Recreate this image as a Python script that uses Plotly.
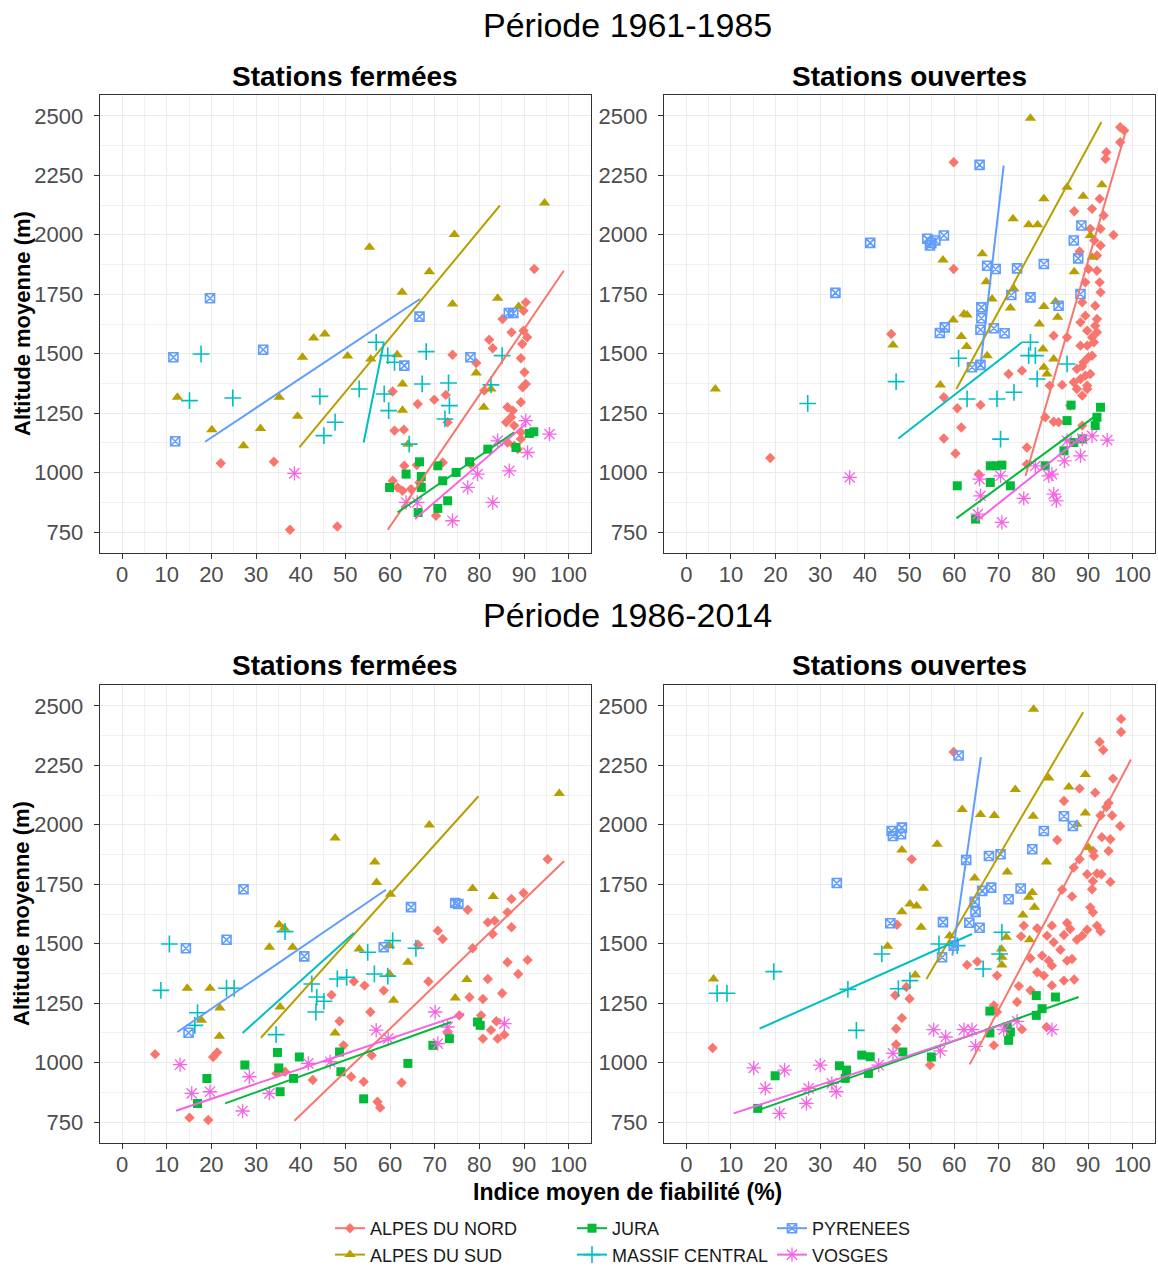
import plotly.graph_objects as go

# ---------------------------------------------------------------------------
# Regions, colours and point shapes (ggplot2 default hue palette)
# ---------------------------------------------------------------------------
REGIONS = ["ALPES DU NORD", "ALPES DU SUD", "JURA", "MASSIF CENTRAL", "PYRENEES", "VOSGES"]
COLORS = {
    "ALPES DU NORD": "#F8766D",
    "ALPES DU SUD": "#B79F00",
    "JURA": "#00BA38",
    "MASSIF CENTRAL": "#00BFC4",
    "PYRENEES": "#619CFF",
    "VOSGES": "#F564E3",
}
SYMBOLS = {
    "ALPES DU NORD": ("diamond", 8, 0),
    "ALPES DU SUD": ("triangle-up", 10, 0),
    "JURA": ("square", 9, 0),
    "MASSIF CENTRAL": ("cross-thin-open", 12, 1.6),
    "PYRENEES": ("square-x-open", 9, 1.6),
    "VOSGES": ("asterisk-open", 12, 1.3),
}

X_TICKS = list(range(0, 101, 10))
Y_TICKS = [750, 1000, 1250, 1500, 1750, 2000, 2250, 2500]

# ---------------------------------------------------------------------------
# Période 1961-1985 — stations fermées  (x: indice de fiabilité %, y: altitude m)
# ---------------------------------------------------------------------------
f6185_nord = [(22.1, 1040), (34.0, 1046), (37.6, 760), (48.2, 774), (92.3, 1856), (90.4, 1716),
              (89.9, 1681), (85.2, 1646), (87.2, 1590), (89.9, 1597), (90.7, 1569), (82.2, 1559),
              (83.0, 1523), (89.6, 1541), (74.0, 1496), (79.3, 1461), (89.3, 1481), (90.1, 1422),
              (89.7, 1359), (90.4, 1373), (81.1, 1345), (60.6, 1341), (66.2, 1289), (69.9, 1307),
              (72.5, 1327), (72.9, 1212), (89.3, 1296), (86.3, 1275), (87.5, 1261), (87.1, 1233),
              (61.0, 1177), (63.1, 1181), (86.0, 1212), (87.8, 1198), (89.3, 1170), (63.2, 1029),
              (66.0, 1032), (71.8, 1043), (78.1, 1036), (60.6, 966), (61.7, 938), (62.8, 924),
              (64.7, 931), (66.6, 959), (70.3, 819), (87.8, 1114), (86.3, 1127), (89.3, 1142),
              (88.6, 1099)]
f6185_sud = [(12.4, 1317), (20.1, 1181), (27.2, 1113), (31.0, 1186), (35.2, 1317), (39.3, 1237),
             (40.4, 1485), (42.9, 1566), (45.4, 1583), (50.5, 1490), (55.4, 1948), (74.4, 2001),
             (94.6, 2134), (68.8, 1845), (62.7, 1758), (74.0, 1709), (84.1, 1733), (88.8, 1699),
             (55.7, 1478), (61.6, 1496), (79.3, 1419), (62.8, 1373), (82.6, 1352), (62.8, 1263),
             (81.0, 1275), (64.0, 1120)]
f6185_jura = [(59.9, 938), (63.6, 994), (66.6, 1046), (67.0, 984), (67.0, 938), (70.7, 1029),
              (71.8, 966), (72.9, 882), (70.7, 850), (66.3, 833), (74.8, 1001), (77.8, 1046),
              (81.9, 1099), (88.2, 1106), (91.2, 1165), (92.2, 1172)]
f6185_mc = [(17.7, 1499), (15.1, 1303), (24.8, 1314), (44.3, 1321), (47.7, 1212), (45.2, 1156),
            (56.9, 1548), (59.5, 1492), (61.0, 1464), (68.1, 1509), (53.1, 1352), (58.7, 1331),
            (67.2, 1373), (73.1, 1377), (73.3, 1282), (72.3, 1226), (85.1, 1492), (82.6, 1369),
            (59.7, 1261), (64.3, 1120)]
f6185_pyr = [(11.5, 1485), (19.7, 1733), (31.6, 1517), (11.9, 1132), (66.6, 1656), (86.6, 1671),
             (87.6, 1671), (78.0, 1485), (63.2, 1450)]
f6185_vos = [(38.6, 997), (63.6, 875), (66.1, 875), (74.0, 798), (77.4, 938), (79.6, 994),
             (83.0, 875), (86.7, 1008), (90.4, 1219), (90.8, 1085), (95.7, 1162), (84.1, 1134)]
f6185_fit = {
    "ALPES DU NORD": [(59.5, 760), (98.9, 1849)],
    "ALPES DU SUD": [(39.7, 1106), (84.6, 2123)],
    "JURA": [(61.7, 833), (87.8, 1170)],
    "MASSIF CENTRAL": [(54.1, 1127), (58.6, 1545)],
    "PYRENEES": [(18.6, 1130), (66.7, 1730)],
    "VOSGES": [(65.6, 805), (90.4, 1205)],
}

# ---------------------------------------------------------------------------
# Période 1961-1985 — stations ouvertes
# ---------------------------------------------------------------------------
o6185_nord = [(18.8, 1062), (45.9, 1583), (59.9, 2305), (97.2, 2452), (98.1, 2438), (97.2, 2389),
              (94.1, 2347), (93.9, 2319), (92.6, 2151), (90.9, 2109), (93.5, 2081), (86.9, 2099),
              (95.7, 1999), (92.8, 2025), (91.4, 1976), (92.0, 1913), (88.1, 1930), (59.9, 1856),
              (90.1, 1856), (92.6, 1800), (89.4, 1800), (92.8, 1758), (88.7, 1716), (92.0, 1646),
              (89.8, 1597), (90.9, 1569), (89.8, 1534), (90.9, 1492), (88.7, 1447), (90.5, 1415),
              (82.3, 1576), (85.3, 1569), (75.2, 1429), (72.2, 1415), (88.3, 1394), (89.8, 1366),
              (86.8, 1380), (81.4, 1366), (84.2, 1369), (57.7, 1317), (65.9, 1285), (60.7, 1271),
              (86.0, 1282), (87.5, 1352), (80.4, 1233), (82.3, 1214), (83.4, 1212), (61.6, 1190),
              (57.7, 1144), (60.3, 1081), (76.3, 1106), (65.5, 994), (76.3, 1036), (88.7, 1198),
              (92.0, 1590), (89.4, 1660), (91.6, 1702), (88.3, 1632), (90.1, 1485), (89.0, 1464),
              (91.3, 1548), (88.3, 1534), (87.5, 1436), (89.4, 1408), (91.6, 1618), (92.8, 1955),
              (90.5, 2025), (92.0, 1849), (88.7, 1324), (89.8, 1352)]
o6185_sud = [(6.5, 1352), (46.3, 1537), (77.1, 2490), (93.1, 2210), (85.3, 2200), (80.1, 2151),
             (88.9, 2162), (73.2, 2067), (76.7, 2042), (78.7, 2042), (90.5, 1997), (66.3, 1920),
             (57.5, 1894), (90.9, 1906), (86.9, 1845), (67.2, 1803), (73.4, 1772), (68.5, 1730),
             (72.6, 1692), (82.7, 1720), (80.1, 1699), (62.2, 1667), (62.9, 1663), (59.8, 1642),
             (83.2, 1653), (79.1, 1625), (61.6, 1572), (62.8, 1530), (67.4, 1492), (79.9, 1520),
             (82.3, 1478), (80.1, 1443), (80.8, 1415), (56.9, 1369)]
o6185_jura = [(60.7, 945), (64.8, 805), (68.1, 959), (68.1, 1029), (69.6, 1029), (70.7, 1032),
              (72.6, 945), (80.4, 1029), (84.6, 1092), (85.3, 1219), (86.2, 1284), (86.8, 1127),
              (88.7, 1142), (91.6, 1198), (92.0, 1233), (92.8, 1275)]
o6185_mc = [(27.2, 1291), (47.0, 1383), (61.0, 1481), (62.9, 1310), (69.6, 1310), (73.4, 1338),
            (70.4, 1141), (77.1, 1548), (76.7, 1492), (78.2, 1492), (78.6, 1394), (85.3, 1457)]
o6185_pyr = [(33.4, 1756), (41.2, 1966), (65.7, 2294), (54.0, 1983), (54.9, 1966), (54.6, 1955),
             (55.8, 1976), (57.7, 1997), (67.4, 1870), (69.3, 1856), (74.1, 1859), (80.1, 1877),
             (88.5, 2039), (86.8, 1976), (87.8, 1901), (72.8, 1747), (77.1, 1737), (83.4, 1702),
             (88.3, 1751), (66.1, 1695), (66.1, 1649), (65.9, 1601), (68.9, 1607), (71.3, 1586),
             (56.8, 1587), (57.9, 1611), (64.0, 1443), (65.9, 1453)]
o6185_vos = [(36.6, 980), (65.7, 973), (65.9, 903), (65.3, 826), (70.7, 791), (75.6, 892),
             (70.4, 987), (81.9, 994), (81.2, 987), (82.3, 910), (82.9, 882), (84.7, 1050),
             (88.3, 1071), (88.7, 1142), (90.9, 1155), (94.3, 1137), (85.3, 1134), (78.2, 1029)]
o6185_fit = {
    "ALPES DU NORD": [(76.0, 987), (98.5, 2438)],
    "ALPES DU SUD": [(60.5, 1352), (93.0, 2474)],
    "JURA": [(60.5, 808), (91.9, 1242)],
    "MASSIF CENTRAL": [(47.5, 1144), (75.2, 1548)],
    "PYRENEES": [(65.9, 1450), (71.1, 2291)],
    "VOSGES": [(65.1, 798), (89.4, 1163)],
}

# ---------------------------------------------------------------------------
# Période 1986-2014 — stations fermées
# ---------------------------------------------------------------------------
f8614_nord = [(7.4, 1036), (20.4, 1024), (21.3, 1043), (15.1, 769), (19.3, 759), (46.9, 1285),
              (48.7, 1174), (49.6, 1073), (42.7, 927), (34.6, 955), (36.5, 962), (95.3, 1855),
              (89.9, 1713), (87.2, 1688), (86.3, 1632), (81.9, 1590), (83.4, 1597), (83.0, 1541),
              (87.2, 1569), (77.4, 1643), (70.7, 1555), (71.8, 1520), (66.3, 1496), (78.5, 1481),
              (86.3, 1422), (90.8, 1432), (88.7, 1373), (81.9, 1352), (68.6, 1341), (51.9, 1341),
              (54.3, 1324), (58.6, 1303), (85.1, 1292), (77.8, 1275), (80.8, 1268), (55.6, 1213),
              (75.5, 1199), (80.4, 1199), (83.8, 1174), (82.6, 1137), (80.8, 1101), (84.1, 1101),
              (85.6, 1118), (72.9, 1125), (55.9, 1031), (51.3, 941), (54.1, 920), (62.6, 916),
              (57.2, 836), (57.8, 811)]
f8614_sud = [(47.7, 1944), (35.2, 1580), (36.3, 1565), (33.0, 1485), (38.2, 1485), (14.6, 1313),
             (19.7, 1313), (21.9, 1230), (17.8, 1178), (21.8, 1111), (35.4, 1234), (47.7, 1125),
             (97.9, 2131), (68.8, 1999), (56.6, 1844), (57.0, 1757), (60.1, 1708), (78.5, 1732),
             (83.1, 1699), (53.1, 1478), (59.9, 1492), (64.0, 1422), (59.9, 1373), (77.2, 1350),
             (60.8, 1262), (74.6, 1272)]
f8614_jura = [(19.0, 934), (16.9, 829), (27.5, 990), (34.8, 1043), (35.1, 978), (39.7, 1024),
              (38.4, 934), (35.4, 878), (49.0, 962), (48.7, 1045), (54.1, 848), (64.0, 997),
              (69.6, 1073), (73.3, 1101), (79.6, 1171), (80.2, 1157)]
f8614_mc = [(10.6, 1499), (8.7, 1304), (16.9, 1210), (16.3, 1157), (23.4, 1313), (25.1, 1313),
            (36.5, 1551), (34.5, 1118), (42.5, 1331), (43.6, 1276), (45.2, 1258), (43.4, 1213),
            (48.2, 1352), (50.3, 1359), (55.0, 1464), (60.6, 1513), (65.8, 1481), (56.5, 1373),
            (59.5, 1364)]
f8614_pyr = [(27.2, 1729), (23.4, 1517), (14.3, 1481), (14.9, 1126), (40.8, 1447), (64.7, 1654),
             (74.6, 1671), (75.3, 1667), (58.6, 1485)]
f8614_vos = [(13.0, 992), (15.6, 871), (19.7, 878), (28.5, 941), (27.0, 797), (33.0, 871),
             (41.7, 997), (46.6, 1004), (56.9, 1137), (59.6, 1101), (70.1, 1213), (70.7, 1080),
             (72.9, 1150), (85.6, 1164)]
f8614_fit = {
    "ALPES DU NORD": [(38.6, 756), (99.0, 1848)],
    "ALPES DU SUD": [(31.1, 1105), (79.8, 2120)],
    "JURA": [(23.1, 829), (73.7, 1171)],
    "MASSIF CENTRAL": [(27.0, 1125), (51.9, 1545)],
    "PYRENEES": [(12.4, 1129), (59.1, 1727)],
    "VOSGES": [(12.1, 798), (76.6, 1206)],
}

# ---------------------------------------------------------------------------
# Période 1986-2014 — stations ouvertes
# ---------------------------------------------------------------------------
o8614_nord = [(5.9, 1062), (50.5, 1855), (47.2, 1580), (46.8, 1283), (49.3, 1318), (50.0, 1269),
              (48.3, 1188), (47.0, 1143), (47.0, 1077), (59.9, 2306), (97.4, 2445), (97.4, 2390),
              (92.6, 2348), (93.4, 2314), (95.6, 2194), (88.1, 2152), (91.6, 2135), (84.6, 2100),
              (94.6, 2092), (92.8, 2039), (95.4, 2039), (94.1, 2075), (97.2, 1995), (83.1, 1936),
              (93.1, 1948), (95.0, 1939), (91.1, 1890), (94.6, 1890), (88.1, 1855), (91.3, 1869),
              (86.8, 1820), (89.8, 1792), (92.0, 1795), (93.0, 1792), (95.0, 1760), (91.1, 1763),
              (90.9, 1729), (84.2, 1727), (86.4, 1699), (90.5, 1653), (91.1, 1632), (85.3, 1587),
              (92.0, 1576), (92.8, 1552), (89.8, 1559), (88.7, 1534), (75.6, 1576), (78.6, 1565),
              (81.9, 1576), (86.0, 1562), (75.0, 1531), (80.8, 1534), (82.3, 1506), (84.6, 1537),
              (87.5, 1517), (77.1, 1439), (79.7, 1450), (81.2, 1429), (83.8, 1475), (85.3, 1429),
              (86.4, 1436), (78.6, 1380), (80.1, 1366), (81.9, 1408), (84.6, 1345), (86.9, 1350),
              (81.9, 1325), (62.9, 1411), (65.2, 1425), (69.6, 1366), (74.5, 1322), (77.1, 1304),
              (74.1, 1255), (68.9, 1241), (69.6, 1213), (80.7, 1150), (75.2, 1140), (68.9, 1073),
              (54.6, 990)]
o8614_sud = [(6.1, 1352), (48.3, 1894), (50.1, 1667), (48.3, 1634), (45.1, 1489), (77.8, 2486),
             (89.4, 2211), (81.2, 2197), (73.7, 2148), (85.7, 2159), (61.8, 2064), (65.9, 2043),
             (69.0, 2039), (77.7, 2036), (89.4, 2050), (87.5, 2002), (56.2, 1918), (90.1, 1904),
             (80.7, 1844), (71.9, 1802), (64.6, 1776), (53.1, 1733), (51.6, 1659), (77.5, 1715),
             (76.7, 1695), (78.0, 1653), (75.4, 1621), (52.6, 1569), (59.0, 1534), (71.7, 1527),
             (76.9, 1517), (70.6, 1478), (70.7, 1443), (70.7, 1411), (51.3, 1369)]
o8614_jura = [(19.9, 945), (16.0, 808), (34.3, 987), (35.9, 969), (35.6, 934), (39.3, 1032),
              (41.2, 1025), (40.8, 955), (48.5, 1045), (54.9, 1024), (68.0, 1217), (68.0, 1125),
              (71.9, 1150), (72.2, 1094), (72.6, 1129), (78.4, 1282), (78.4, 1199), (79.7, 1227),
              (82.7, 1276)]
o8614_mc = [(6.9, 1292), (9.1, 1292), (19.6, 1383), (36.2, 1308), (38.1, 1136), (43.8, 1457),
            (47.5, 1311), (50.1, 1345), (56.6, 1499), (60.7, 1492), (70.7, 1548), (70.2, 1457),
            (66.5, 1394)]
o8614_pyr = [(33.7, 1755), (46.0, 1974), (48.3, 1988), (46.3, 1953), (48.1, 1960), (45.7, 1586),
             (61.0, 2291), (84.6, 2036), (86.6, 1995), (80.1, 1974), (77.5, 1897), (67.8, 1869),
             (70.4, 1876), (62.7, 1852), (68.3, 1736), (66.3, 1722), (74.9, 1732), (72.2, 1687),
             (64.6, 1676), (64.8, 1634), (57.5, 1591), (63.4, 1588), (65.7, 1567), (57.3, 1443),
             (59.9, 1492)]
o8614_vos = [(15.1, 978), (17.7, 892), (22.0, 969), (20.9, 787), (26.9, 829), (27.4, 892),
             (30.0, 990), (32.6, 913), (33.6, 878), (43.1, 990), (46.3, 1039), (55.4, 1139),
             (58.1, 1108), (56.9, 1050), (62.2, 1139), (64.0, 1139), (64.8, 1069), (71.1, 1139),
             (74.1, 1174), (81.9, 1139)]
o8614_fit = {
    "ALPES DU NORD": [(63.5, 993), (99.6, 2274)],
    "ALPES DU SUD": [(53.8, 1352), (88.9, 2473)],
    "JURA": [(16.0, 800), (87.9, 1276)],
    "MASSIF CENTRAL": [(16.4, 1143), (64.0, 1541)],
    "PYRENEES": [(59.6, 1450), (66.0, 2284)],
    "VOSGES": [(10.6, 787), (74.1, 1180)],
}

# ---------------------------------------------------------------------------
# Panel layout: (axis suffix, points per region, fitted segments)
# ---------------------------------------------------------------------------
PANELS = [
    ("", [f6185_nord, f6185_sud, f6185_jura, f6185_mc, f6185_pyr, f6185_vos], f6185_fit),
    ("2", [o6185_nord, o6185_sud, o6185_jura, o6185_mc, o6185_pyr, o6185_vos], o6185_fit),
    ("3", [f8614_nord, f8614_sud, f8614_jura, f8614_mc, f8614_pyr, f8614_vos], f8614_fit),
    ("4", [o8614_nord, o8614_sud, o8614_jura, o8614_mc, o8614_pyr, o8614_vos], o8614_fit),
]

W, H = 1158, 1267
X_LEFT = [99.7 / W, 591.0 / W]
X_RIGHT = [664.0 / W, 1155.0 / W]
Y_TOP = [1 - 553.0 / H, 1 - 95.0 / H]
Y_BOT = [1 - 1143.0 / H, 1 - 685.0 / H]
DOMAINS = [(X_LEFT, Y_TOP), (X_RIGHT, Y_TOP), (X_LEFT, Y_BOT), (X_RIGHT, Y_BOT)]

FONT = "Liberation Sans, Arial, sans-serif"
TICK_FONT = dict(family=FONT, size=22, color="#4D4D4D")

fig = go.Figure()

# points first, fitted lines on top
for suffix, groups, fits in PANELS:
    for region, pts in zip(REGIONS, groups):
        sym, size, lw = SYMBOLS[region]
        marker = dict(symbol=sym, size=size, color=COLORS[region])
        marker["line"] = dict(width=lw, color=COLORS[region]) if lw else dict(width=0)
        fig.add_trace(go.Scatter(
            x=[p[0] for p in pts], y=[p[1] for p in pts],
            mode="markers", marker=marker, showlegend=False,
            xaxis="x" + suffix, yaxis="y" + suffix, name=region,
        ))
for suffix, groups, fits in PANELS:
    for region in REGIONS:
        seg = fits[region]
        fig.add_trace(go.Scatter(
            x=[p[0] for p in seg], y=[p[1] for p in seg],
            mode="lines", line=dict(color=COLORS[region], width=2),
            showlegend=False, xaxis="x" + suffix, yaxis="y" + suffix, name=region,
        ))

# legend entries (three columns, two rows each)
LEGEND_COLUMNS = {
    "legend": ["ALPES DU NORD", "ALPES DU SUD"],
    "legend2": ["JURA", "MASSIF CENTRAL"],
    "legend3": ["PYRENEES", "VOSGES"],
}
for leg, names in LEGEND_COLUMNS.items():
    for region in names:
        sym, size, lw = SYMBOLS[region]
        marker = dict(symbol=sym, size=size, color=COLORS[region])
        marker["line"] = dict(width=lw, color=COLORS[region]) if lw else dict(width=0)
        fig.add_trace(go.Scatter(
            x=[None], y=[None], mode="lines+markers", name=region,
            marker=marker, line=dict(color=COLORS[region], width=2),
            legend=leg, showlegend=True,
        ))


def x_axis(domain, anchor):
    return dict(
        domain=domain, anchor=anchor, range=[-5, 105],
        tickmode="linear", tick0=0, dtick=10,
        ticks="outside", ticklen=5, tickwidth=1.2, tickcolor="#333333",
        tickfont=TICK_FONT, ticklabelstandoff=-4,
        showline=True, mirror=True, linecolor="#333333", linewidth=1.3,
        showgrid=True, gridcolor="#EBEBEB", gridwidth=1.3, zeroline=False,
        minor=dict(tickmode="linear", tick0=0, dtick=5, showgrid=True,
                   gridcolor="#F0F0F0", gridwidth=1),
        fixedrange=True, automargin=False,
    )


def y_axis(domain, anchor):
    return dict(
        domain=domain, anchor=anchor, range=[662.5, 2587.5],
        tickmode="linear", tick0=750, dtick=250,
        ticks="outside", ticklen=5, tickwidth=1.2, tickcolor="#333333",
        tickfont=TICK_FONT, ticklabelstandoff=6,
        showline=True, mirror=True, linecolor="#333333", linewidth=1.3,
        showgrid=True, gridcolor="#EBEBEB", gridwidth=1.3, zeroline=False,
        minor=dict(tickmode="linear", tick0=750, dtick=125, showgrid=True,
                   gridcolor="#F0F0F0", gridwidth=1),
        fixedrange=True, automargin=False,
    )


layout = dict(
    width=W, height=H, margin=dict(l=0, r=0, t=0, b=0, autoexpand=False),
    paper_bgcolor="white", plot_bgcolor="white",
    font=dict(family=FONT, color="#1A1A1A"),
    template="none",
)
for (suffix, _, _), (xd, yd) in zip(PANELS, DOMAINS):
    layout["xaxis" + suffix] = x_axis(xd, "y" + suffix)
    layout["yaxis" + suffix] = y_axis(yd, "x" + suffix)

legend_common = dict(
    orientation="v", xanchor="left", yanchor="top", bgcolor="rgba(0,0,0,0)",
    font=dict(family=FONT, size=18, color="#1A1A1A"), itemclick=False,
    tracegroupgap=0,
)
layout["legend"] = dict(legend_common, x=330 / W, y=1 - 1210 / H)
layout["legend2"] = dict(legend_common, x=572 / W, y=1 - 1210 / H)
layout["legend3"] = dict(legend_common, x=772 / W, y=1 - 1210 / H)

# titles, facet strips and axis titles
ann = []
for text, ypx in [("Période 1961-1985", 25), ("Période 1986-2014", 615)]:
    ann.append(dict(text=text, x=627 / W, y=1 - ypx / H, xref="paper", yref="paper",
                    showarrow=False, xanchor="center", yanchor="middle",
                    font=dict(family=FONT, size=34, color="#000000")))
for ypx in (76, 665):
    for text, xpx in [("Stations fermées", 345.4), ("Stations ouvertes", 909.5)]:
        ann.append(dict(text=text, x=xpx / W, y=1 - ypx / H, xref="paper", yref="paper",
                        showarrow=False, xanchor="center", yanchor="middle",
                        font=dict(family=FONT, size=28, color="#000000", weight="bold")))
for ypx in (324, 914):
    ann.append(dict(text="Altitude moyenne (m)", x=22 / W, y=1 - ypx / H,
                    xref="paper", yref="paper", showarrow=False, textangle=-90,
                    xanchor="center", yanchor="middle",
                    font=dict(family=FONT, size=22, color="#000000", weight="bold")))
ann.append(dict(text="Indice moyen de fiabilité (%)", x=627 / W, y=1 - 1192 / H,
                xref="paper", yref="paper", showarrow=False, xanchor="center",
                yanchor="middle",
                font=dict(family=FONT, size=23, color="#000000", weight="bold")))
layout["annotations"] = ann

fig.update_layout(**layout)
fig.write_html("out.html")
